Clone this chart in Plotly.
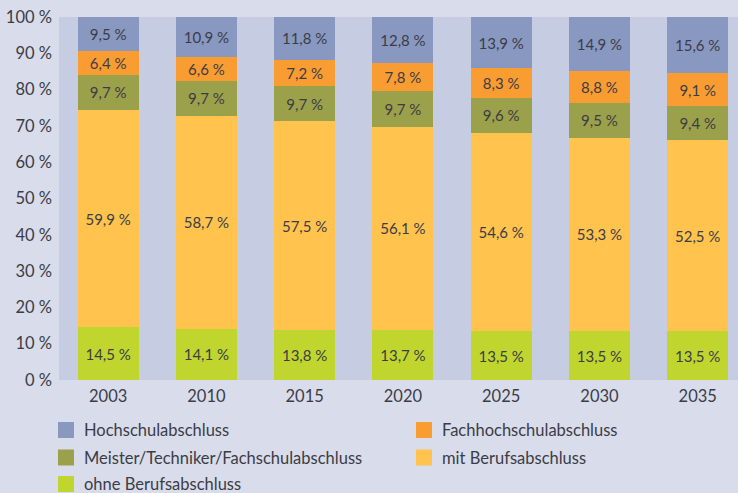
import plotly.graph_objects as go

years = ["2003", "2010", "2015", "2020", "2025", "2030", "2035"]
ohne = [14.5, 14.1, 13.8, 13.7, 13.5, 13.5, 13.5]
mit = [59.9, 58.7, 57.5, 56.1, 54.6, 53.3, 52.5]
meister = [9.7, 9.7, 9.7, 9.7, 9.6, 9.5, 9.4]
fachhoch = [6.4, 6.6, 7.2, 7.8, 8.3, 8.8, 9.1]
hoch = [9.5, 10.9, 11.8, 12.8, 13.9, 14.9, 15.6]

series = [
    ("ohne Berufsabschluss", ohne, "#c0d62e"),
    ("mit Berufsabschluss", mit, "#ffc34e"),
    ("Meister/Techniker/Fachschulabschluss", meister, "#9ba04a"),
    ("Fachhochschulabschluss", fachhoch, "#f99d32"),
    ("Hochschulabschluss", hoch, "#8898c0"),
]
# legend layout: (name, column, row)
legend_layout = [
    ("Hochschulabschluss", 0, 0),
    ("Fachhochschulabschluss", 1, 0),
    ("Meister/Techniker/Fachschulabschluss", 0, 1),
    ("mit Berufsabschluss", 1, 1),
    ("ohne Berufsabschluss", 0, 2),
]

FONT = "Lato"
TXT = "#3c3c46"
W, H = 738, 493
ML, MR, MT, MB = 59, 0, 17, 113
PW, PH = W - ML - MR, H - MT - MB

def px_x(px):
    return (px - ML) / PW

def px_y(py):
    return (H - MB - py) / PH

fig = go.Figure()
colors = {}
for name, vals, col in series:
    colors[name] = col
    fig.add_trace(go.Bar(
        x=years, y=vals, name=name, marker=dict(color=col, line=dict(width=0)),
        width=0.62, showlegend=False,
        texttemplate="%{y:.1f} %", textposition="inside", insidetextanchor="middle",
        textangle=0, constraintext="none",
        textfont=dict(family=FONT, size=15, color=TXT),
    ))

col_x = [58, 416]
row_y = [422, 449.5, 476]
sw = 16
for name, c, r in legend_layout:
    x0, y0 = col_x[c], row_y[r]
    fig.add_shape(type="rect", xref="paper", yref="paper",
                  x0=px_x(x0), x1=px_x(x0 + sw), y0=px_y(y0 + sw), y1=px_y(y0),
                  fillcolor=colors[name], line=dict(width=0), layer="above")
    fig.add_annotation(xref="paper", yref="paper", x=px_x(x0 + 24), y=px_y(y0 + sw / 2),
                       xanchor="left", yanchor="middle", text=name, showarrow=False,
                       font=dict(family=FONT, size=16.5, color=TXT))

fig.update_layout(
    barmode="stack",
    width=W, height=H,
    margin=dict(l=ML, r=MR, t=MT, b=MB, autoexpand=False),
    paper_bgcolor="#d9dceb",
    plot_bgcolor="#c6cce2",
    separators=",.",
    font=dict(family=FONT, color=TXT, size=15),
    showlegend=False,
    xaxis=dict(range=[-0.5, 6.41], showgrid=False, zeroline=False, showline=False,
               ticks="", tickfont=dict(size=16.5), automargin=False, ticklabelstandoff=4),
    yaxis=dict(range=[0, 100], dtick=10, ticksuffix=" %", showgrid=False, zeroline=False,
               showline=False, ticks="", tickfont=dict(size=16.5), automargin=False,
               ticklabelstandoff=6),
)

fig.write_html("out.html", config={"displayModeBar": False},
               post_script="document.body.style.margin='0';")
